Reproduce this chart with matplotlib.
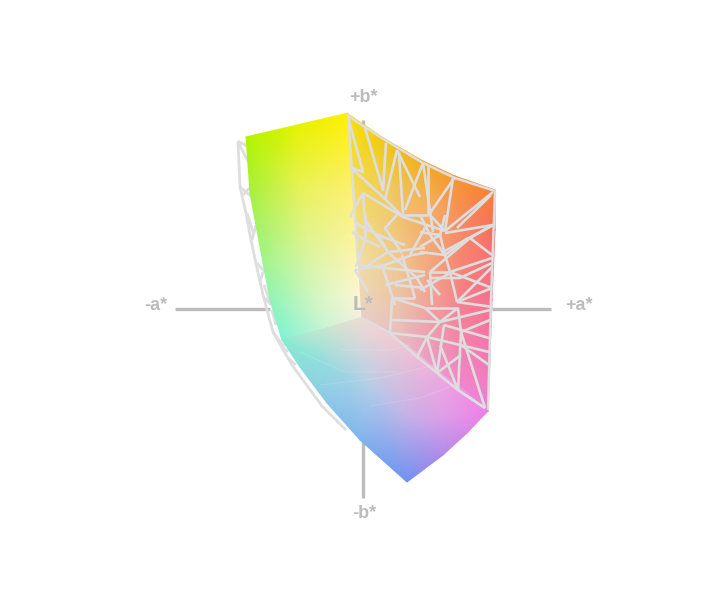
import numpy as np
import matplotlib
matplotlib.use("Agg")
import matplotlib.pyplot as plt
from matplotlib.collections import LineCollection

# everything below, in image pixels
left_x = [[246, 297, 348], [250, 301, 352], [263, 311, 356], [270, 316, 359], [282, 324, 362]]
left_y = [[137, 125, 113], [193, 190, 190], [263, 262, 258], [300, 298, 295], [340, 329, 317]]
left_c = [["#aef500", "#e6f200", "#fff000"],
          ["#a8f040", "#e8f25c", "#fdf072"],
          ["#a0f490", "#dcf5a8", "#fcf4b0"],
          ["#90f4b8", "#d4f6c4", "#fcf6d4"],
          ["#80f2d4", "#c8f4d4", "#f8f0e0"]]

bottom_x = [[282, 300, 327, 360, 407, 443, 467, 487],
            [282, 318, 345, 372, 408, 440, 465, 487],
            [282, 300, 327, 360, 407, 443, 467, 487]]
bottom_y = [[340, 335, 328, 318, 345, 375, 392, 412],
            [340, 358, 375, 390, 418, 418, 415, 412],
            [340, 367, 403, 440, 482, 455, 433, 412]]
bottom_c = [["#88ecd0", "#a8ead0", "#c8e6d0", "#f0dcd4", "#f0c4d4", "#f0a8e0", "#f090e4", "#f080e8"],
            ["#88ecd0", "#90e0dc", "#a0d4e4", "#b4cce8", "#c4b0e8", "#dca0e8", "#e890e8", "#f080e8"],
            ["#88ecd0", "#8cdcdc", "#8cc8e8", "#80b4ec", "#7090f0", "#b08ce8", "#d888e8", "#f080e8"]]

wall_x = [[348, 385, 423, 455, 495], [352, 392, 430, 462, 495], [358, 398, 436, 466, 492], [362, 400, 425, 458, 488]]
wall_y = [[114, 139, 161, 176, 190], [180, 190, 205, 215, 230], [260, 265, 270, 285, 300], [318, 342, 362, 390, 412]]
wall_c = [["#f8e000", "#f0c810", "#f4ac20", "#f89830", "#f88030"],
          ["#f4dc50", "#f0c860", "#f4b060", "#f88c5c", "#f86c60"],
          ["#f0e0a0", "#f0c890", "#f4a080", "#f67c80", "#f87090"],
          ["#e8d0c8", "#e8bcc4", "#eca0c8", "#f088d0", "#f080d8"]]

wire_right = [
    # upper part
    [(348, 117), (363, 172), (350, 167)], [(365, 128), (383, 190), (386, 143)],
    [(397, 150), (385, 200)], [(397, 150), (420, 197)], [(399, 153), (403, 215)],
    [(423, 163), (405, 210)], [(428, 165), (428, 213)], [(455, 177), (430, 213)],
    [(453, 178), (445, 231)], [(493, 192), (445, 231)], [(491, 195), (457, 228)],
    [(350, 167), (383, 197)], [(363, 193), (350, 217)], [(363, 193), (403, 217)],
    [(383, 197), (403, 217), (445, 231)], [(403, 215), (428, 215)], [(428, 213), (445, 231)],
    [(423, 163), (433, 232)], [(493, 225), (445, 233)], [(363, 193), (365, 220)],
    # middle band, left half
    [(365, 220), (388, 252), (417, 278), (425, 292)], [(355, 223), (378, 235), (405, 245)],
    [(397, 215), (385, 228), (402, 253)], [(378, 235), (388, 252), (368, 265)],
    [(365, 240), (380, 247)], [(365, 240), (357, 265)], [(355, 265), (425, 272)],
    [(355, 270), (385, 265), (412, 255), (425, 253)], [(365, 215), (365, 238)],
    [(388, 252), (425, 248)], [(382, 265), (395, 305)], [(402, 255), (415, 298)],
    [(355, 270), (368, 292)], [(385, 285), (425, 275)], [(395, 285), (425, 288)],
    [(410, 255), (425, 228)], [(352, 232), (365, 240)],
    # middle band, right half
    [(420, 247), (440, 235), (445, 215)], [(440, 235), (445, 255), (450, 272), (457, 302)],
    [(420, 232), (440, 235)], [(443, 252), (493, 225)], [(430, 272), (470, 238), (493, 225)],
    [(470, 238), (492, 255)], [(450, 272), (492, 258)], [(445, 255), (468, 238)],
    [(430, 272), (450, 272)], [(445, 255), (420, 252)], [(430, 272), (432, 305)],
    [(450, 272), (492, 288)], [(492, 263), (460, 278), (430, 278)], [(420, 290), (450, 273)],
    [(457, 302), (492, 288)], [(492, 267), (457, 302)], [(457, 302), (493, 307)],
    [(430, 235), (445, 255)], [(420, 215), (430, 235)], [(427, 280), (440, 295)],
    # lower part
    [(392, 298), (425, 308)], [(425, 308), (458, 308)], [(392, 298), (415, 298)],
    [(425, 308), (440, 322)], [(458, 308), (440, 322)], [(458, 308), (461, 332)],
    [(490, 310), (440, 322)], [(440, 322), (427, 337)], [(392, 320), (440, 322)],
    [(392, 298), (390, 333)], [(390, 333), (427, 337)], [(427, 337), (417, 357)],
    [(427, 337), (437, 373)], [(444, 325), (437, 373)], [(444, 325), (489, 338)],
    [(461, 332), (458, 390)], [(461, 332), (485, 408)], [(427, 337), (489, 352)],
    [(440, 345), (458, 390)], [(437, 373), (461, 355)], [(490, 320), (461, 332)],
    [(489, 365), (461, 345)], [(458, 390), (485, 408)],
]
wire_outline = [
    [(348, 114), (354, 200), (358, 265)],
    [(362, 318), (390, 333), (417, 357), (437, 373), (458, 390), (485, 408)],
    [(348, 116), (385, 140), (423, 163), (455, 178), (495, 191)],
    [(495, 191), (491, 300), (488, 410)],
]
wire_left = [
    [(238, 141), (240, 187), (246, 213), (250, 235), (257, 268), (263, 295), (273, 332), (292, 365), (322, 406), (346, 430)],
    [(238, 141), (248, 147)], [(238, 142), (250, 165)], [(240, 187), (252, 197)], [(243, 195), (252, 185)],
    [(247, 213), (254, 235)], [(252, 240), (256, 225)], [(257, 263), (265, 272)], [(263, 272), (260, 282)],
    [(264, 285), (271, 305)], [(271, 305), (265, 298)], [(276, 325), (272, 310)], [(273, 332), (284, 347)],
    [(280, 345), (288, 352)], [(288, 358), (296, 365)],
]
wire_faint = [
    [(300, 352), (345, 372), (395, 372)], [(320, 385), (380, 378), (435, 365)],
    [(370, 406), (420, 398), (455, 385)], [(340, 350), (390, 350), (410, 345)],
]

axis_lines = [[(175, 309), (270, 309)], [(492, 309), (551, 309)], [(363, 440), (363, 498)], [(363, 120), (363, 128)]]
labels = ["+b*", "-a*", "+a*", "-b*"]
label_x = [364, 156, 579, 364]
label_y = [97, 306, 305, 513]

grey = "#bcbcbc"
wire = "#dedede"

fig = plt.figure(figsize=(7.25, 5.92), dpi=100)
ax = fig.add_axes([0, 0, 1, 1])
ax.set_xlim(0, 725)
ax.set_ylim(592, 0)
ax.axis("off")


def face(xs, ys, cs, z):
    rgb = np.array([[matplotlib.colors.to_rgb(c) for c in row] for row in cs])
    ax.pcolormesh(np.array(xs), np.array(ys), rgb, shading="gouraud", zorder=z)


ax.add_collection(LineCollection(axis_lines, colors=grey, linewidths=2.4, zorder=1))
ax.add_collection(LineCollection(wire_left, colors=wire, linewidths=2.0, zorder=2))
face(left_x, left_y, left_c, 3)
face(wall_x, wall_y, wall_c, 3)
face(bottom_x, bottom_y, bottom_c, 4)
ax.add_collection(LineCollection(wire_faint, colors="white", linewidths=0.8, alpha=0.15, zorder=5))
ax.add_collection(LineCollection(wire_right, colors=wire, linewidths=1.9, zorder=5))
ax.add_collection(LineCollection(wire_outline, colors=wire, linewidths=1.8, zorder=5))

for s, x, y in zip(labels, label_x, label_y):
    ax.text(x, y, s, color=grey, fontsize=13, fontweight="bold", family="Liberation Sans",
            ha="center", va="center", zorder=6)
ax.text(363, 304, "L*", color=grey, fontsize=15, fontweight="bold", family="Liberation Sans",
        ha="center", va="center", zorder=6)

fig.savefig("out.png", dpi=100)
